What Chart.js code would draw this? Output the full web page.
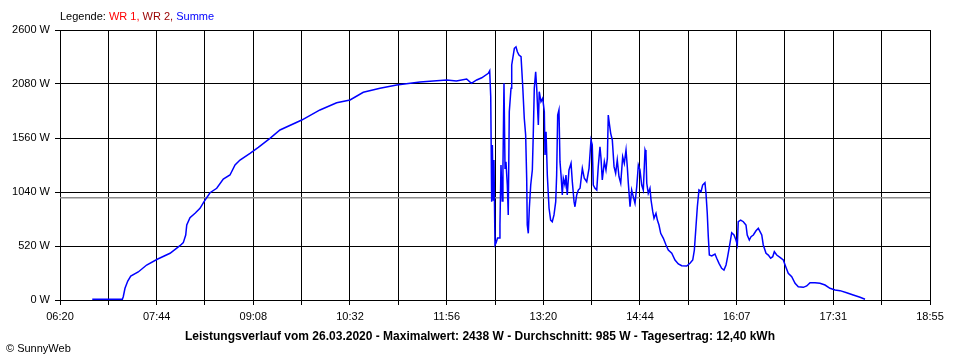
<!DOCTYPE html>
<html>
<head>
<meta charset="utf-8">
<script src="https://cdn.jsdelivr.net/npm/chart.js@4/dist/chart.umd.min.js"></script>
<style>
  body { margin: 0; background: #fff; }
  #wrap { position: relative; width: 960px; height: 360px; font-family: "Liberation Sans", Arial, sans-serif; }
  canvas { position: absolute; left: 0; top: 0; }
  .txt { position: absolute; white-space: nowrap; font-size: 11px; line-height: 13px; color: #000; }
  #legend { left: 60px; top: 10px; }
  #title { left: 0; width: 960px; top: 329px; text-align: center; font-weight: bold; font-size: 12px; line-height: 15px; }
  #copy { left: 6px; top: 342px; }
</style>
</head>
<body>
<div id="wrap">
  <canvas id="chart" width="960" height="360"></canvas>
  <div class="txt" id="legend">Legende: <span style="color:#ff0000">WR 1,</span> <span style="color:#990000">WR 2,</span> <span style="color:#0000ff">Summe</span></div>
  <div class="txt" id="title">Leistungsverlauf vom 26.03.2020 - Maximalwert: 2438 W - Durchschnitt: 985 W - Tagesertrag: 12,40 kWh</div>
  <div class="txt" id="copy">&copy; SunnyWeb</div>
</div>
<script>
// time axis in minutes since midnight
const startMin = 380;   // 06:20
const endMin = 1135;    // 18:55
const xLabels = ["06:20", "07:44", "09:08", "10:32", "11:56", "13:20", "14:44", "16:07", "17:31", "18:55"];
const yTicks = [0, 520, 1040, 1560, 2080, 2600];
const average = 985;

// Summe (W)
const times = [
  408.0, 434.1, 434.9, 436.4, 438.8, 441.4, 447.9, 455.2, 464.4, 475.5,
  484.1, 487.0, 489.1, 490.0, 492.8, 497.2, 501.5, 505.0, 510.2, 516.0,
  521.7, 527.5, 531.9, 536.2, 544.9, 552.1, 562.2, 570.9, 589.8, 605.6,
  620.1, 631.7, 643.2, 657.7, 672.2, 692.4, 715.6, 724.0, 732.9, 737.0,
  741.6, 746.0, 751.7, 752.9, 753.8, 754.6, 755.2, 756.0, 756.6, 757.5,
  758.4, 759.7, 761.0, 761.8, 762.7, 763.8, 764.4, 765.3, 766.2, 767.0,
  768.2, 769.0, 769.9, 771.4, 772.0, 774.3, 775.7, 776.9, 778.3, 780.1,
  781.5, 782.9, 784.1, 785.0, 785.5, 786.4, 787.3, 788.5, 789.9, 790.7,
  791.6, 792.8, 793.7, 795.1, 795.9, 797.4, 798.9, 800.3, 800.9, 801.8,
  802.9, 804.4, 805.8, 807.2, 808.7, 810.2, 811.0, 811.9, 813.0, 813.9,
  814.8, 815.9, 816.8, 818.2, 819.1, 820.2, 821.7, 823.5, 824.6, 826.1,
  826.9, 828.4, 829.8, 831.3, 833.3, 835.0, 837.1, 839.1, 840.8, 841.9,
  842.8, 844.3, 845.8, 847.1, 848.6, 849.5, 850.6, 852.4, 853.8, 855.0,
  855.8, 856.7, 857.9, 859.3, 860.8, 862.2, 863.6, 865.1, 866.6, 868.3,
  869.7, 871.2, 872.3, 873.2, 874.7, 876.1, 877.5, 879.0, 880.5, 881.9,
  883.3, 884.8, 886.2, 887.7, 888.5, 889.2, 890.5, 892.0, 892.9, 894.4,
  895.5, 897.2, 898.4, 899.8, 901.3, 903.6, 905.9, 907.9, 910.9, 913.7,
  916.6, 919.5, 923.9, 926.7, 929.1, 930.5, 931.9, 933.1, 934.5, 936.3,
  937.7, 939.7, 940.6, 941.7, 942.6, 943.5, 945.6, 948.4, 949.9, 951.9,
  954.2, 956.2, 958.0, 959.4, 961.4, 962.9, 964.9, 966.6, 967.8, 968.6,
  970.7, 973.0, 975.3, 976.4, 978.2, 979.7, 981.7, 984.0, 986.0, 987.5,
  989.0, 990.3, 992.7, 994.7, 996.7, 998.5, 999.9, 1002.0, 1004.8, 1007.7,
  1009.8, 1012.0, 1015.0, 1017.9, 1020.7, 1025.1, 1028.0, 1030.9, 1035.2, 1039.5,
  1043.9, 1048.2, 1052.6, 1056.9, 1062.7, 1068.4, 1074.3, 1078.6
];
const watts = [
  8, 8, 32, 113, 183, 231, 270, 337, 392, 450,
  523, 552, 626, 722, 793, 835, 883, 947, 1033, 1076,
  1165, 1204, 1300, 1348, 1413, 1470, 1557, 1637, 1733, 1830,
  1900, 1926, 2000, 2039, 2070, 2099, 2119, 2110, 2128, 2087,
  2119, 2140, 2183, 2208, 1958, 947, 1493, 963, 1348, 530,
  549, 597, 597, 722, 1300, 953, 1271, 2087, 1268, 1332,
  1107, 819, 1813, 2039, 2263, 2424, 2438, 2391, 2359, 2343,
  2070, 1750, 1589, 1172, 722, 642, 886, 1107, 1252, 1589,
  2039, 2198, 2039, 1685, 2006, 1910, 1942, 1813, 1396, 1621,
  1204, 883, 770, 754, 819, 947, 1204, 1781, 1830, 1332,
  1204, 1011, 1172, 1107, 1204, 1011, 1252, 1316, 1139, 947,
  898, 1011, 1059, 1076, 1268, 1172, 1139, 1268, 1541, 1493,
  1107, 1076, 1059, 1284, 1476, 1364, 1156, 1332, 1252, 1364,
  1781, 1701, 1605, 1541, 1284, 1220, 1348, 1187, 1124, 1380,
  1316, 1444, 1284, 1124, 898, 1059, 995, 931, 1091, 1300,
  1252, 1107, 1059, 1444, 1413, 1124, 1027, 1076, 963, 850,
  787, 835, 770, 722, 642, 594, 530, 481, 450, 385,
  347, 330, 327, 353, 385, 481, 706, 898, 1059, 1043,
  1107, 1130, 1027, 835, 610, 433, 424, 443, 402, 353,
  305, 289, 337, 417, 546, 648, 626, 578, 530, 754,
  770, 754, 722, 626, 578, 610, 626, 667, 690, 658,
  626, 530, 450, 433, 402, 417, 465, 433, 411, 385,
  321, 257, 224, 161, 128, 122, 135, 167, 167, 161,
  144, 113, 96, 90, 70, 48, 26, 7
];

const font = { family: "'Liberation Sans', Arial, sans-serif", size: 11 };

new Chart(document.getElementById("chart"), {
  type: "line",
  data: {
    datasets: [
      {
        label: "Summe",
        data: times.map((t, i) => ({ x: t, y: watts[i] })),
        borderColor: "#0000ff",
        borderWidth: 1.5,
        pointRadius: 0,
        tension: 0
      },
      {
        label: "Durchschnitt",
        data: [{ x: startMin, y: average }, { x: endMin, y: average }],
        borderColor: "#8c8c8c",
        borderWidth: 1.5,
        pointRadius: 0
      }
    ]
  },
  options: {
    responsive: false,
    animation: false,
    devicePixelRatio: 1,
    layout: { padding: { top: 30, right: 30, left: 0, bottom: 0 } },
    plugins: { legend: { display: false }, tooltip: { enabled: false } },
    scales: {
      x: {
        type: "linear",
        min: startMin,
        max: endMin,
        afterFit: s => { s.height = 60; },
        afterBuildTicks: s => {
          const step = (endMin - startMin) / ((xLabels.length - 1) * 2);
          s.ticks = [];
          for (let k = 0; k <= (xLabels.length - 1) * 2; k++) s.ticks.push({ value: startMin + k * step });
        },
        ticks: {
          autoSkip: false,
          maxRotation: 0,
          padding: 5,
          color: "#000",
          font: font,
          callback: (v, i) => (i % 2 === 0 ? xLabels[i / 2] : "")
        },
        grid: { color: "#000", lineWidth: 1, tickLength: 5 },
        border: { color: "#000", width: 1 }
      },
      y: {
        min: 0,
        max: 2600,
        afterFit: s => { s.width = 60; },
        afterBuildTicks: s => { s.ticks = yTicks.map(v => ({ value: v })); },
        ticks: {
          padding: 5,
          color: "#000",
          font: font,
          callback: v => v + " W"
        },
        grid: { color: "#000", lineWidth: 1, tickLength: 5 },
        border: { color: "#000", width: 1 }
      }
    }
  }
});
</script>
</body>
</html>
